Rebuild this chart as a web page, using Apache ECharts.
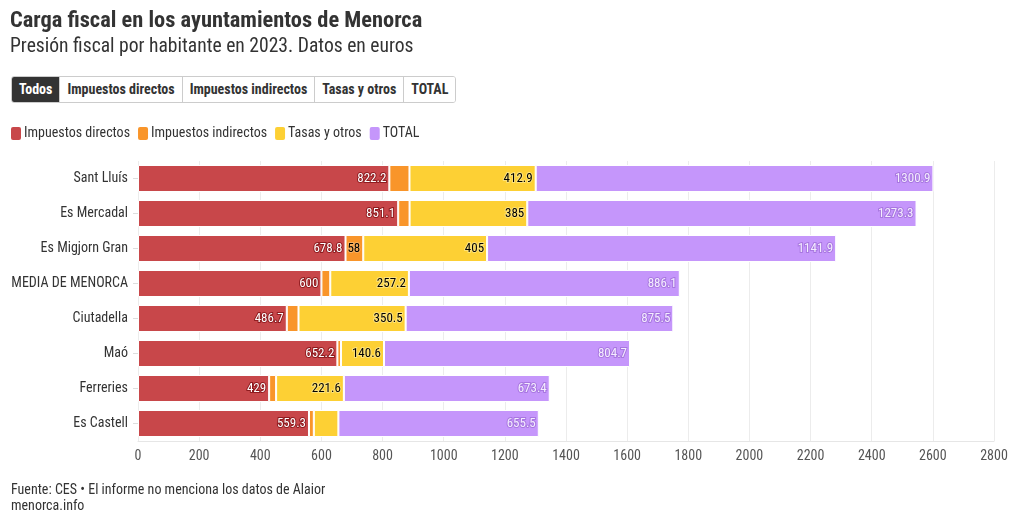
<!DOCTYPE html>
<html><head><meta charset="utf-8">
<script src="https://cdn.jsdelivr.net/npm/echarts@6/dist/echarts.min.js"></script>
<style>
html,body{margin:0;padding:0;background:#fff;}
#c{width:1020px;height:524px;position:absolute;left:0;top:0;}
#btns{position:absolute;left:11px;top:76px;display:flex;border:1px solid #ccc;border-radius:3px;overflow:hidden;z-index:5;
 font-family:"Roboto Condensed","Liberation Sans Narrow","DejaVu Sans Condensed",Roboto,sans-serif;font-weight:bold;font-size:14px;color:#333;}
#btns div{height:25px;line-height:25px;padding:0 7px;border-left:1px solid #ccc;background:#fff;}
#btns div:first-child{border-left:none;background:#333;color:#fff;}
</style></head>
<body>
<div id="c"></div>
<div id="btns"><div>Todos</div><div>Impuestos directos</div><div>Impuestos indirectos</div><div>Tasas y otros</div><div>TOTAL</div></div>
<script>
const FONT = '"Roboto Condensed","Liberation Sans Narrow","DejaVu Sans Condensed",Roboto,sans-serif';
const categories = ['Sant Lluís','Es Mercadal','Es Migjorn Gran','MEDIA DE MENORCA','Ciutadella','Maó','Ferreries','Es Castell'];
const directos   = [822.2, 851.1, 678.8, 600, 486.7, 652.2, 429, 559.3];
const indirectos = [65.8, 37.2, 58, 28.9, 38.3, 11.9, 22.8, 15.8];
const tasas      = [412.9, 385, 405, 257.2, 350.5, 140.6, 221.6, 80.4];
const total      = [1300.9, 1273.3, 1141.9, 886.1, 875.5, 804.7, 673.4, 655.5];
const xTicks = [0,200,400,600,800,1000,1200,1400,1600,1800,2000,2200,2400,2600,2800];

const chart = echarts.init(document.getElementById('c'));
const xMax = xTicks[xTicks.length-1];
const plotW = 856;
function fits(v){ const s=String(v); const tw = s.length*5.5+4; return v*plotW/xMax > tw; }
function mkLabel(color, border){
  return {show:true, position:'insideRight', distance:3, fontFamily:FONT, fontSize:13, color:color,
    textBorderColor:border, textBorderWidth:border?2:0,
    formatter:p=> fits(p.value) ? String(p.value) : ''};
}
function ser(name, data, color, lab){
  return {name, type:'bar', stack:'a', data, barWidth:27, itemStyle:{color, borderColor:'#fff', borderWidth:1},
    label:lab, emphasis:{disabled:true}};
}
chart.setOption({
  animation:false,
  title:{text:'Carga fiscal en los ayuntamientos de Menorca', subtext:'Presión fiscal por habitante en 2023. Datos en euros',
    left:5, top:5, itemGap:5,
    textStyle:{fontFamily:FONT, fontSize:22.4, fontWeight:'bold', color:'#333'},
    subtextStyle:{fontFamily:FONT, fontSize:19.6, color:'#333'}},
  legend:{left:4, top:120, itemWidth:12, itemHeight:15, itemGap:6, icon:'roundRect',
    textStyle:{fontFamily:FONT, fontSize:14, color:'#333', padding:[0,0,0,-3]}},
  grid:{left:138, right:26, top:161, bottom:83, containLabel:false},
  xAxis:{type:'value', min:0, max:xMax, interval:200,
    axisLabel:{fontFamily:FONT, fontSize:14, color:'#555', margin:8, formatter:v=>String(v)},
    axisLine:{show:true, lineStyle:{color:'#e6e6e6'}},
    splitLine:{lineStyle:{color:'#ececec'}}},
  yAxis:{type:'category', data:categories, inverse:true,
    axisLine:{show:false}, axisTick:{show:true, length:5, lineStyle:{color:'#ddd'}, alignWithLabel:true},
    axisLabel:{fontFamily:FONT, fontSize:14, color:'#333', margin:10}},
  series:[
    ser('Impuestos directos', directos, '#c8474a', mkLabel('#fff','#8e1b1f')),
    ser('Impuestos indirectos', indirectos, '#f9952a', mkLabel('#000','#f9b060')),
    ser('Tasas y otros', tasas, '#fdd034', mkLabel('#000','#fde27a')),
    ser('TOTAL', total, '#c596fb', mkLabel('#f4ecff','#a877e0'))
  ],
  graphic:[
    {type:'text', left:11, top:482, style:{text:'Fuente: CES • El informe no menciona los datos de Alaior\nmenorca.info',
      fontFamily:FONT, fontSize:14, fill:'#333', lineHeight:16}}
  ]
});
</script>
</body></html>
